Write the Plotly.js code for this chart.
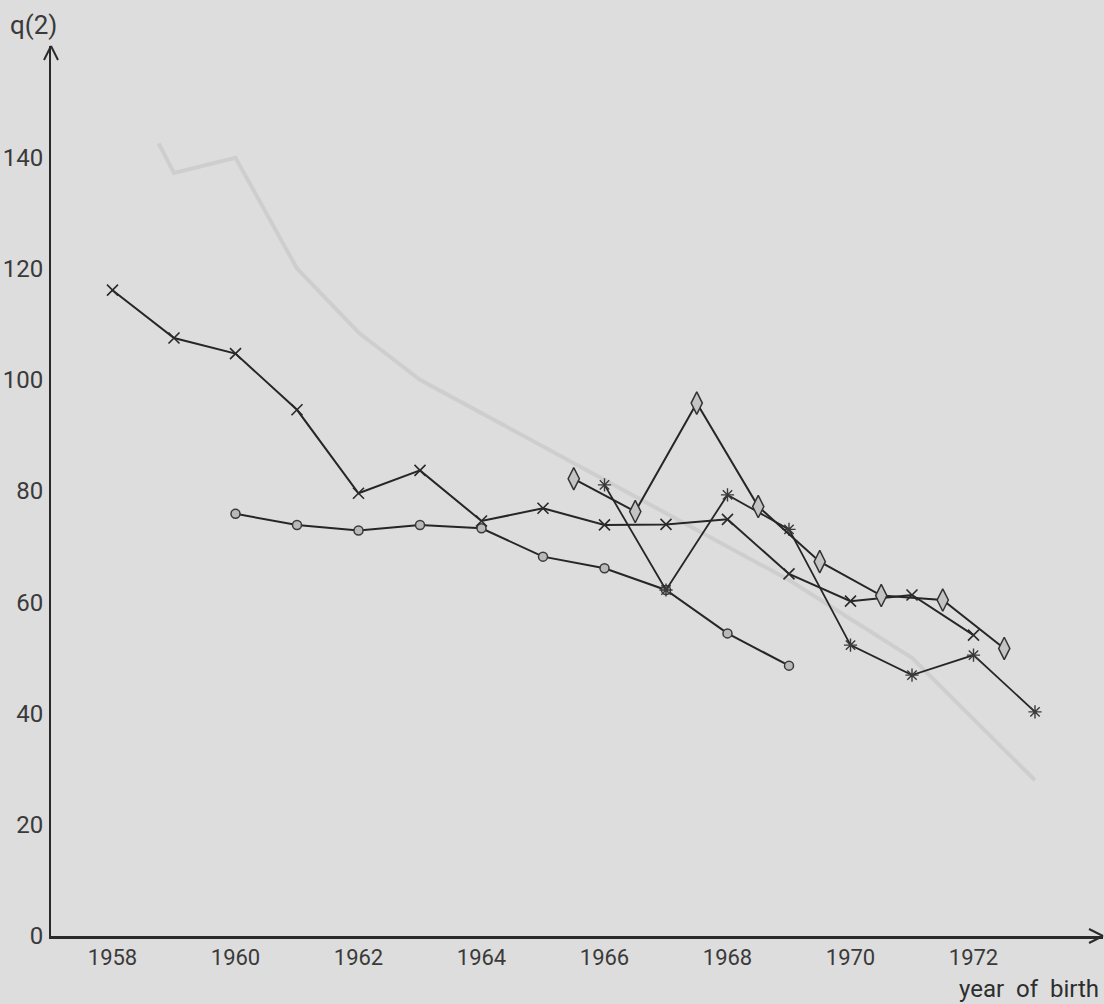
<!DOCTYPE html>
<html>
<head>
<meta charset="utf-8">
<script src="https://cdn.plot.ly/plotly-3.0.1.min.js"></script>
<style>
  html, body { margin: 0; padding: 0; background: #dddddd; }
  #chart { width: 1104px; height: 1004px; }
</style>
</head>
<body>
<div id="chart"></div>
<script>
// ---- data ----
const yearsA = [1958, 1959, 1960, 1961, 1962, 1963, 1964, 1965, 1966, 1967, 1968, 1969, 1970, 1971, 1972];
const valuesA = [116.1, 107.5, 104.7, 94.6, 79.6, 83.7, 74.6, 76.9, 73.9, 74.0, 74.9, 65.1, 60.2, 61.3, 54.1];

const yearsB = [1966, 1967, 1968, 1969, 1970, 1971, 1972, 1973];
const valuesB = [81.1, 62.2, 79.3, 73.1, 52.3, 46.9, 50.5, 40.3];

const yearsC = [1965.5, 1966.5, 1967.5, 1968.5, 1969.5, 1970.5, 1971.5, 1972.5];
const valuesC = [82.2, 76.3, 95.8, 77.2, 67.3, 61.2, 60.4, 51.7];

const yearsD = [1960, 1961, 1962, 1963, 1964, 1965, 1966, 1967, 1968, 1969];
const valuesD = [75.9, 73.9, 72.9, 73.9, 73.3, 68.2, 66.1, 62.2, 54.4, 48.6];

// faint, partly erased curve
const yearsE = [1958.75, 1959, 1960, 1961, 1962, 1963, 1964, 1965, 1966, 1967, 1968, 1969, 1970, 1971, 1972, 1973];
const valuesE = [142.5, 137.2, 139.9, 120, 108.5, 100, 94, 88, 82, 76, 70, 64, 57, 50, 39, 28];

const xTickVals = [1958, 1960, 1962, 1964, 1966, 1968, 1970, 1972];
const yTickVals = [0, 20, 40, 60, 80, 100, 120, 140];

const xAxisTitle = 'year&nbsp;&nbsp;of&nbsp;&nbsp;birth';
const yAxisTitle = 'q(2)';

// ---- styling ----
const ink = '#262626';
const font = "Roboto, 'Liberation Sans Narrow', sans-serif";

const traces = [
  {
    x: yearsE, y: valuesE, mode: 'lines', name: 'faint',
    line: { color: 'rgba(120,120,120,0.14)', width: 4 },
    hoverinfo: 'skip'
  },
  {
    x: yearsD, y: valuesD, mode: 'lines+markers', name: 'D',
    line: { color: ink, width: 2 },
    marker: { symbol: 'circle', size: 9, color: '#b9b9b9', line: { color: '#3a3a3a', width: 1.5 } }
  },
  {
    x: yearsA, y: valuesA, mode: 'lines+markers', name: 'A',
    line: { color: ink, width: 2 },
    marker: { symbol: 'x-thin-open', size: 11, color: '#2a2a2a', line: { color: '#2a2a2a', width: 1.6 } }
  },
  {
    x: yearsB, y: valuesB, mode: 'lines+markers', name: 'B',
    line: { color: ink, width: 1.8 },
    marker: { symbol: 'asterisk-open', size: 11, color: '#3a3a3a', line: { color: '#3a3a3a', width: 1.4 } }
  },
  {
    x: yearsC, y: valuesC, mode: 'lines+markers', name: 'C',
    line: { color: ink, width: 2 },
    marker: { symbol: 'diamond-tall', size: 16, color: '#c4c4c4', line: { color: '#333333', width: 1.5 } }
  }
];

// arrow chevrons (axis decorations, in paper units)
const plotW = 1104 - 51 - 1, plotH = 1004 - 46 - 68;
const ax = 14 / plotW, ay = 7 / plotH;   // x-axis arrow arms
const bx = 7 / plotW, by = 14 / plotH;   // y-axis arrow arms
const chev = (x0, y0, x1, y1) => ({
  type: 'line', xref: 'paper', yref: 'paper', x0, y0, x1, y1,
  line: { color: '#2a2a2a', width: 2 }, layer: 'above'
});

const layout = {
  width: 1104, height: 1004,
  margin: { l: 51, r: 1, t: 46, b: 68 },
  paper_bgcolor: '#dddddd',
  plot_bgcolor: '#dddddd',
  showlegend: false,
  font: { family: font, color: '#333333', size: 24 },
  xaxis: {
    range: [1957, 1957 + plotW / 61.5],
    tickvals: xTickVals,
    ticktext: xTickVals.map(String),
    showgrid: false, zeroline: false,
    showline: true, linecolor: '#2a2a2a', linewidth: 2.5,
    ticks: '', ticklabelstandoff: 0,
    tickfont: { family: font, size: 22, color: '#3a3a3a' }
  },
  yaxis: {
    range: [0, 160],
    tickvals: yTickVals,
    ticktext: yTickVals.map(String),
    showgrid: false, zeroline: false,
    showline: true, linecolor: '#2a2a2a', linewidth: 2,
    ticks: '', ticklabelstandoff: 1,
    tickfont: { family: font, size: 24, color: '#3a3a3a' }
  },
  shapes: [
    chev(1 - ax, ay, 1, 0), chev(1 - ax, -ay, 1, 0),
    chev(-bx, 1 - by, 0, 1), chev(bx, 1 - by, 0, 1)
  ],
  annotations: [
    {
      text: xAxisTitle, xref: 'paper', yref: 'paper', x: 1, y: 0,
      xanchor: 'right', yanchor: 'middle', xshift: -2, yshift: -53,
      showarrow: false, font: { family: font, size: 24, color: '#2e2e2e' }
    },
    {
      text: yAxisTitle, xref: 'paper', yref: 'paper', x: 0, y: 1,
      xanchor: 'center', yanchor: 'middle', xshift: -18, yshift: 21,
      showarrow: false, font: { family: font, size: 26, color: '#3a3a3a' }
    }
  ]
};

Plotly.newPlot('chart', traces, layout, { staticPlot: true, displayModeBar: false });
</script>
</body>
</html>
